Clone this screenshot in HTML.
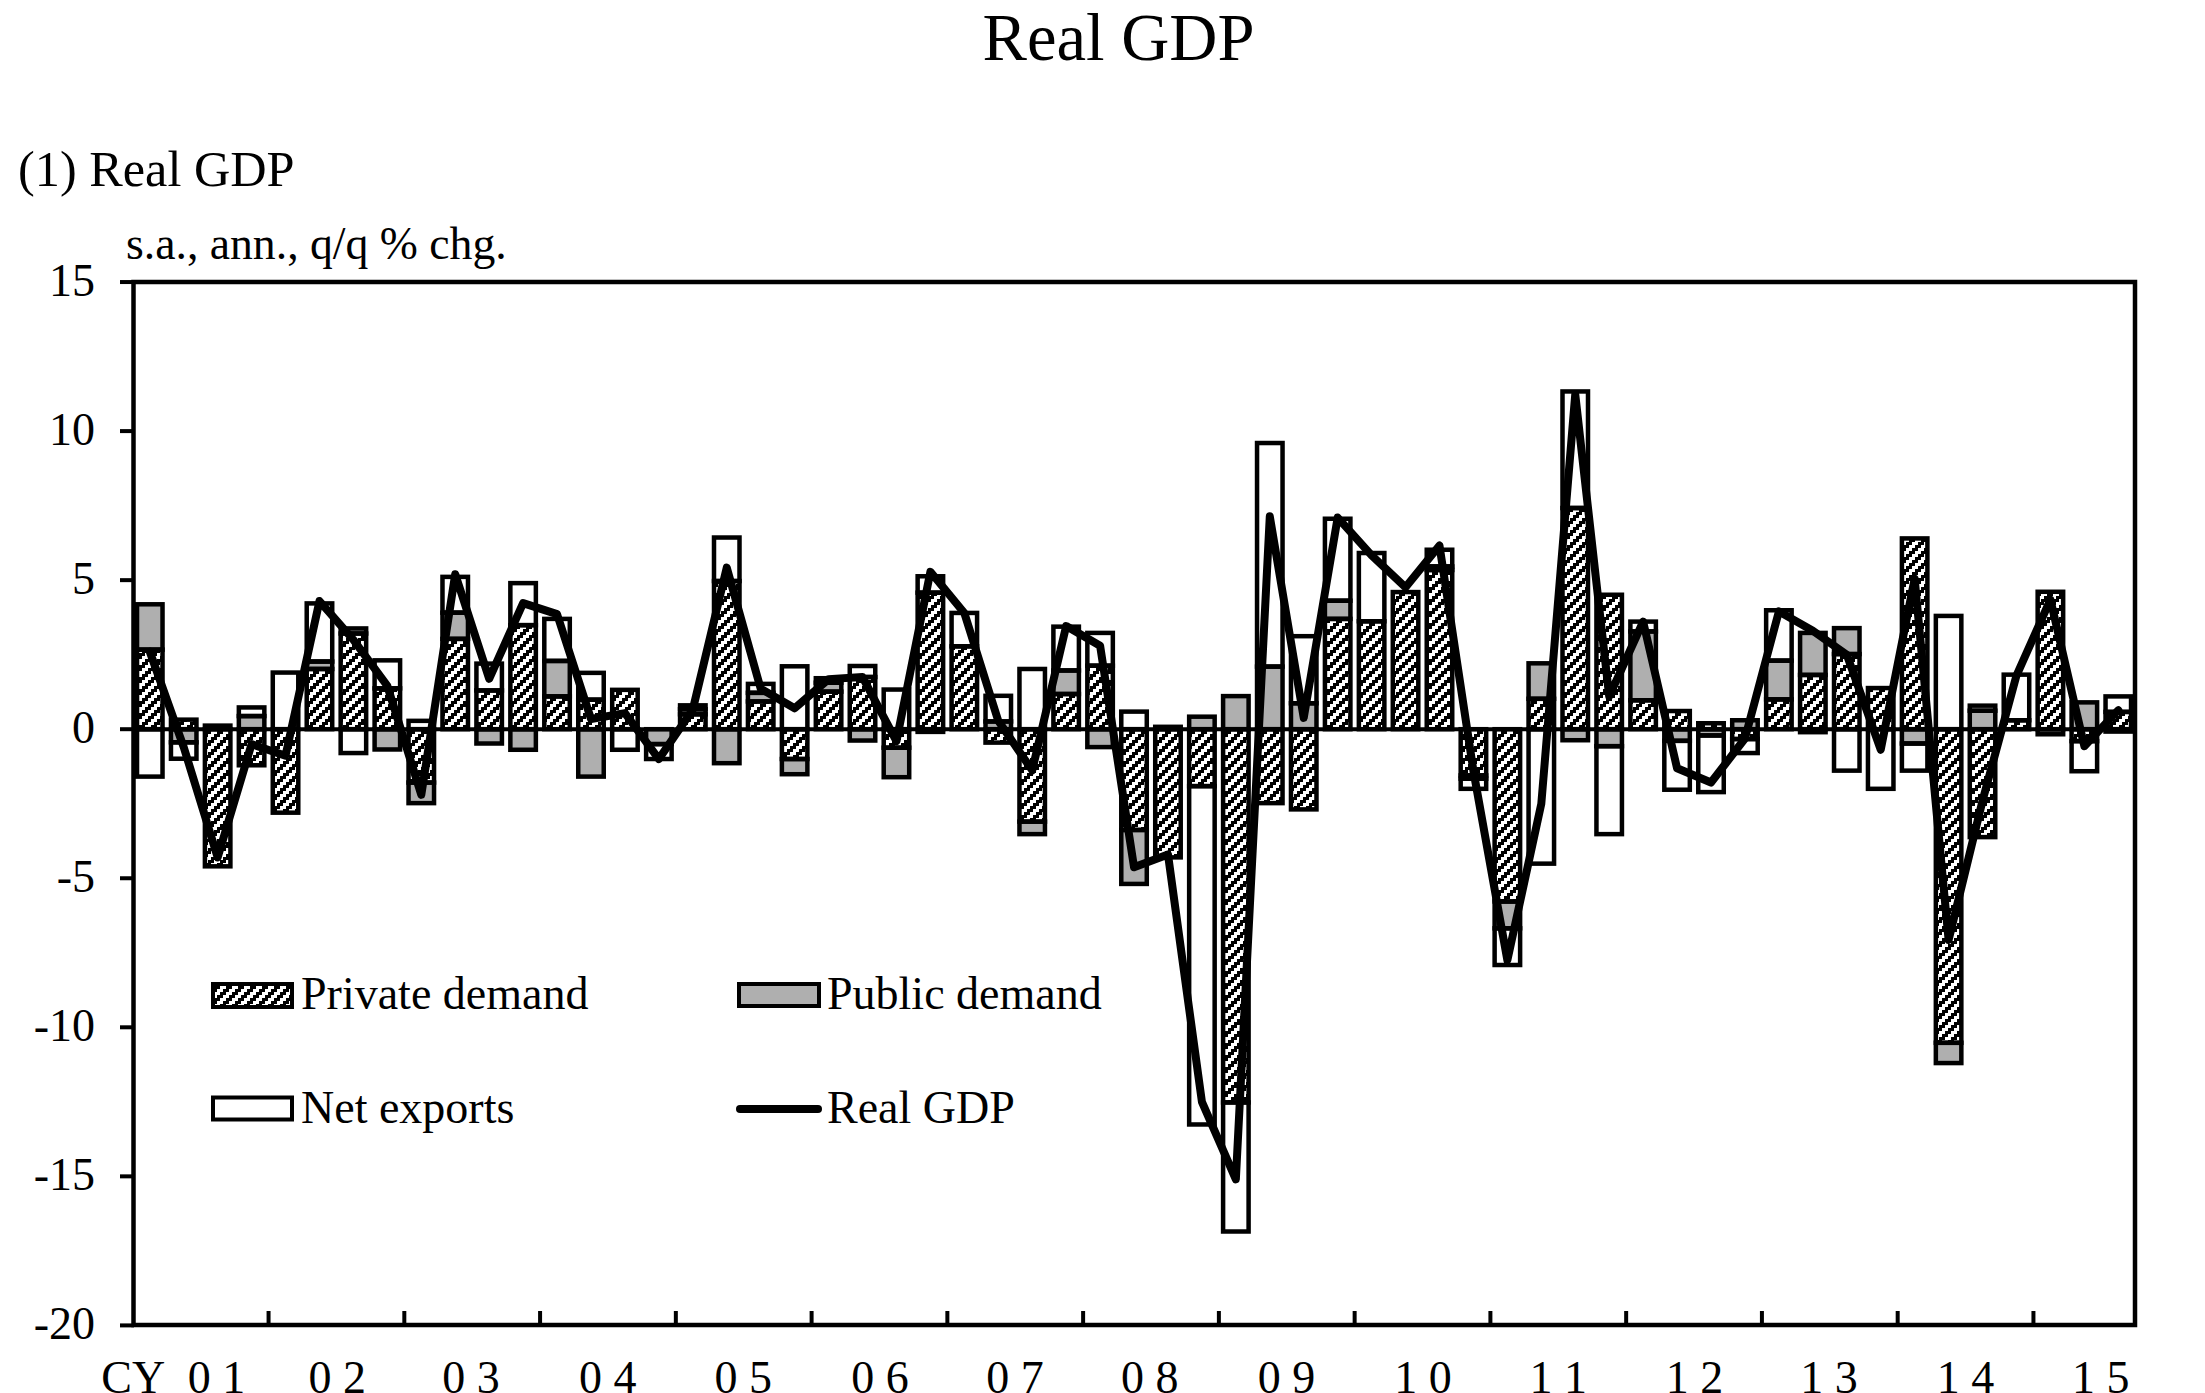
<!DOCTYPE html>
<html><head><meta charset="utf-8"><style>
html,body{margin:0;padding:0;background:#fff;}
body{width:2205px;height:1393px;overflow:hidden;position:relative;}
svg{position:absolute;left:0;top:0;}
text{font-family:"Liberation Serif",serif;fill:#000;}
</style></head><body>
<svg width="2205" height="1393" viewBox="0 0 2205 1393">
<defs>
<pattern id="hatch" patternUnits="userSpaceOnUse" x="7" y="11" width="12" height="12"><rect width="12" height="12" fill="#000"/><rect x="0" y="0" width="3" height="3" fill="#fff"/><rect x="3" y="0" width="3" height="3" fill="#fff"/><rect x="0" y="3" width="3" height="3" fill="#fff"/><rect x="9" y="3" width="3" height="3" fill="#fff"/><rect x="6" y="6" width="3" height="3" fill="#fff"/><rect x="9" y="6" width="3" height="3" fill="#fff"/><rect x="3" y="9" width="3" height="3" fill="#fff"/><rect x="6" y="9" width="3" height="3" fill="#fff"/></pattern>
</defs>
<rect width="2205" height="1393" fill="#fff"/>
<text x="1118.5" y="59.5" text-anchor="middle" font-size="66.6">Real GDP</text>
<text x="18" y="186" font-size="50.3">(1) Real GDP</text>
<text x="126" y="258.5" font-size="45.7">s.a., ann., q/q % chg.</text>
<g id="bars">
<rect x="137.02" y="649.61" width="25.50" height="79.59" fill="url(#hatch)"/>
<rect x="137.02" y="604.30" width="25.50" height="45.31" fill="#afafaf"/>
<rect x="137.02" y="729.20" width="25.50" height="47.40" fill="#ffffff"/>
<rect x="170.96" y="719.66" width="25.50" height="9.54" fill="url(#hatch)"/>
<rect x="170.96" y="729.20" width="25.50" height="13.12" fill="#afafaf"/>
<rect x="170.96" y="742.32" width="25.50" height="16.40" fill="#ffffff"/>
<rect x="204.90" y="729.20" width="25.50" height="137.13" fill="url(#hatch)"/>
<rect x="204.90" y="725.62" width="25.50" height="3.58" fill="#ffffff"/>
<rect x="238.84" y="729.20" width="25.50" height="36.07" fill="url(#hatch)"/>
<rect x="238.84" y="716.08" width="25.50" height="13.12" fill="#afafaf"/>
<rect x="238.84" y="707.44" width="25.50" height="8.64" fill="#ffffff"/>
<rect x="272.78" y="729.20" width="25.50" height="83.47" fill="url(#hatch)"/>
<rect x="272.78" y="672.56" width="25.50" height="56.64" fill="#ffffff"/>
<rect x="306.72" y="668.98" width="25.50" height="60.22" fill="url(#hatch)"/>
<rect x="306.72" y="661.53" width="25.50" height="7.45" fill="#afafaf"/>
<rect x="306.72" y="603.40" width="25.50" height="58.13" fill="#ffffff"/>
<rect x="340.66" y="633.51" width="25.50" height="95.69" fill="url(#hatch)"/>
<rect x="340.66" y="628.44" width="25.50" height="5.07" fill="#afafaf"/>
<rect x="340.66" y="729.20" width="25.50" height="23.85" fill="#ffffff"/>
<rect x="374.60" y="688.36" width="25.50" height="40.84" fill="url(#hatch)"/>
<rect x="374.60" y="729.20" width="25.50" height="20.27" fill="#afafaf"/>
<rect x="374.60" y="660.34" width="25.50" height="28.02" fill="#ffffff"/>
<rect x="408.54" y="729.20" width="25.50" height="53.36" fill="url(#hatch)"/>
<rect x="408.54" y="782.56" width="25.50" height="20.57" fill="#afafaf"/>
<rect x="408.54" y="720.85" width="25.50" height="8.35" fill="#ffffff"/>
<rect x="442.48" y="638.88" width="25.50" height="90.32" fill="url(#hatch)"/>
<rect x="442.48" y="612.64" width="25.50" height="26.23" fill="#afafaf"/>
<rect x="442.48" y="576.87" width="25.50" height="35.77" fill="#ffffff"/>
<rect x="476.42" y="690.45" width="25.50" height="38.75" fill="url(#hatch)"/>
<rect x="476.42" y="729.20" width="25.50" height="14.31" fill="#afafaf"/>
<rect x="476.42" y="663.62" width="25.50" height="26.83" fill="#ffffff"/>
<rect x="510.36" y="625.16" width="25.50" height="104.04" fill="url(#hatch)"/>
<rect x="510.36" y="729.20" width="25.50" height="20.57" fill="#afafaf"/>
<rect x="510.36" y="583.13" width="25.50" height="42.03" fill="#ffffff"/>
<rect x="544.30" y="696.41" width="25.50" height="32.79" fill="url(#hatch)"/>
<rect x="544.30" y="660.94" width="25.50" height="35.47" fill="#afafaf"/>
<rect x="544.30" y="618.90" width="25.50" height="42.03" fill="#ffffff"/>
<rect x="578.24" y="699.69" width="25.50" height="29.51" fill="url(#hatch)"/>
<rect x="578.24" y="729.20" width="25.50" height="47.40" fill="#afafaf"/>
<rect x="578.24" y="672.86" width="25.50" height="26.83" fill="#ffffff"/>
<rect x="612.18" y="689.85" width="25.50" height="39.35" fill="url(#hatch)"/>
<rect x="612.18" y="729.20" width="25.50" height="20.57" fill="#ffffff"/>
<rect x="646.12" y="729.20" width="25.50" height="14.90" fill="#afafaf"/>
<rect x="646.12" y="744.11" width="25.50" height="14.90" fill="#ffffff"/>
<rect x="680.06" y="714.30" width="25.50" height="14.90" fill="url(#hatch)"/>
<rect x="680.06" y="709.23" width="25.50" height="5.07" fill="#afafaf"/>
<rect x="680.06" y="705.35" width="25.50" height="3.88" fill="#ffffff"/>
<rect x="714.00" y="581.04" width="25.50" height="148.16" fill="url(#hatch)"/>
<rect x="714.00" y="729.20" width="25.50" height="33.98" fill="#afafaf"/>
<rect x="714.00" y="537.52" width="25.50" height="43.52" fill="#ffffff"/>
<rect x="747.94" y="701.48" width="25.50" height="27.72" fill="url(#hatch)"/>
<rect x="747.94" y="692.83" width="25.50" height="8.64" fill="#afafaf"/>
<rect x="747.94" y="683.89" width="25.50" height="8.94" fill="#ffffff"/>
<rect x="781.88" y="729.20" width="25.50" height="29.81" fill="url(#hatch)"/>
<rect x="781.88" y="759.01" width="25.50" height="15.20" fill="#afafaf"/>
<rect x="781.88" y="666.30" width="25.50" height="62.90" fill="#ffffff"/>
<rect x="815.82" y="691.64" width="25.50" height="37.56" fill="url(#hatch)"/>
<rect x="815.82" y="682.70" width="25.50" height="8.94" fill="#afafaf"/>
<rect x="815.82" y="678.22" width="25.50" height="4.47" fill="#ffffff"/>
<rect x="849.76" y="677.03" width="25.50" height="52.17" fill="url(#hatch)"/>
<rect x="849.76" y="729.20" width="25.50" height="11.33" fill="#afafaf"/>
<rect x="849.76" y="666.00" width="25.50" height="11.03" fill="#ffffff"/>
<rect x="883.70" y="729.20" width="25.50" height="18.48" fill="url(#hatch)"/>
<rect x="883.70" y="747.68" width="25.50" height="29.51" fill="#afafaf"/>
<rect x="883.70" y="689.55" width="25.50" height="39.65" fill="#ffffff"/>
<rect x="917.64" y="592.67" width="25.50" height="136.53" fill="url(#hatch)"/>
<rect x="917.64" y="729.20" width="25.50" height="2.68" fill="#afafaf"/>
<rect x="917.64" y="576.27" width="25.50" height="16.40" fill="#ffffff"/>
<rect x="951.58" y="646.33" width="25.50" height="82.87" fill="url(#hatch)"/>
<rect x="951.58" y="612.94" width="25.50" height="33.39" fill="#ffffff"/>
<rect x="985.52" y="729.20" width="25.50" height="13.41" fill="url(#hatch)"/>
<rect x="985.52" y="721.45" width="25.50" height="7.75" fill="#afafaf"/>
<rect x="985.52" y="695.81" width="25.50" height="25.64" fill="#ffffff"/>
<rect x="1019.46" y="729.20" width="25.50" height="92.41" fill="url(#hatch)"/>
<rect x="1019.46" y="821.61" width="25.50" height="12.52" fill="#afafaf"/>
<rect x="1019.46" y="668.98" width="25.50" height="60.22" fill="#ffffff"/>
<rect x="1053.40" y="694.02" width="25.50" height="35.18" fill="url(#hatch)"/>
<rect x="1053.40" y="670.47" width="25.50" height="23.55" fill="#afafaf"/>
<rect x="1053.40" y="626.65" width="25.50" height="43.82" fill="#ffffff"/>
<rect x="1087.34" y="665.70" width="25.50" height="63.50" fill="url(#hatch)"/>
<rect x="1087.34" y="729.20" width="25.50" height="17.89" fill="#afafaf"/>
<rect x="1087.34" y="632.91" width="25.50" height="32.79" fill="#ffffff"/>
<rect x="1121.28" y="729.20" width="25.50" height="100.76" fill="url(#hatch)"/>
<rect x="1121.28" y="829.96" width="25.50" height="53.96" fill="#afafaf"/>
<rect x="1121.28" y="711.61" width="25.50" height="17.59" fill="#ffffff"/>
<rect x="1155.22" y="729.20" width="25.50" height="128.18" fill="url(#hatch)"/>
<rect x="1155.22" y="726.82" width="25.50" height="2.38" fill="#afafaf"/>
<rect x="1189.16" y="729.20" width="25.50" height="56.94" fill="url(#hatch)"/>
<rect x="1189.16" y="716.68" width="25.50" height="12.52" fill="#afafaf"/>
<rect x="1189.16" y="786.14" width="25.50" height="338.34" fill="#ffffff"/>
<rect x="1223.10" y="729.20" width="25.50" height="373.22" fill="url(#hatch)"/>
<rect x="1223.10" y="696.11" width="25.50" height="33.09" fill="#afafaf"/>
<rect x="1223.10" y="1102.42" width="25.50" height="129.08" fill="#ffffff"/>
<rect x="1257.04" y="729.20" width="25.50" height="73.93" fill="url(#hatch)"/>
<rect x="1257.04" y="666.60" width="25.50" height="62.60" fill="#afafaf"/>
<rect x="1257.04" y="443.02" width="25.50" height="223.57" fill="#ffffff"/>
<rect x="1290.98" y="729.20" width="25.50" height="80.19" fill="url(#hatch)"/>
<rect x="1290.98" y="703.27" width="25.50" height="25.93" fill="#afafaf"/>
<rect x="1290.98" y="636.19" width="25.50" height="67.07" fill="#ffffff"/>
<rect x="1324.92" y="618.90" width="25.50" height="110.30" fill="url(#hatch)"/>
<rect x="1324.92" y="600.72" width="25.50" height="18.18" fill="#afafaf"/>
<rect x="1324.92" y="518.74" width="25.50" height="81.98" fill="#ffffff"/>
<rect x="1358.86" y="621.29" width="25.50" height="107.91" fill="url(#hatch)"/>
<rect x="1358.86" y="553.02" width="25.50" height="68.26" fill="#ffffff"/>
<rect x="1392.80" y="592.07" width="25.50" height="137.13" fill="url(#hatch)"/>
<rect x="1426.74" y="570.01" width="25.50" height="159.19" fill="url(#hatch)"/>
<rect x="1426.74" y="566.44" width="25.50" height="3.58" fill="#afafaf"/>
<rect x="1426.74" y="549.74" width="25.50" height="16.69" fill="#ffffff"/>
<rect x="1460.68" y="729.20" width="25.50" height="46.21" fill="url(#hatch)"/>
<rect x="1460.68" y="775.41" width="25.50" height="3.28" fill="#afafaf"/>
<rect x="1460.68" y="778.68" width="25.50" height="10.14" fill="#ffffff"/>
<rect x="1494.62" y="729.20" width="25.50" height="172.30" fill="url(#hatch)"/>
<rect x="1494.62" y="901.50" width="25.50" height="26.83" fill="#afafaf"/>
<rect x="1494.62" y="928.33" width="25.50" height="36.67" fill="#ffffff"/>
<rect x="1528.56" y="698.79" width="25.50" height="30.41" fill="url(#hatch)"/>
<rect x="1528.56" y="663.32" width="25.50" height="35.47" fill="#afafaf"/>
<rect x="1528.56" y="729.20" width="25.50" height="134.44" fill="#ffffff"/>
<rect x="1562.50" y="508.01" width="25.50" height="221.19" fill="url(#hatch)"/>
<rect x="1562.50" y="729.20" width="25.50" height="11.03" fill="#afafaf"/>
<rect x="1562.50" y="391.45" width="25.50" height="116.56" fill="#ffffff"/>
<rect x="1596.44" y="594.76" width="25.50" height="134.44" fill="url(#hatch)"/>
<rect x="1596.44" y="729.20" width="25.50" height="16.99" fill="#afafaf"/>
<rect x="1596.44" y="746.19" width="25.50" height="87.94" fill="#ffffff"/>
<rect x="1630.38" y="700.28" width="25.50" height="28.92" fill="url(#hatch)"/>
<rect x="1630.38" y="631.42" width="25.50" height="68.86" fill="#afafaf"/>
<rect x="1630.38" y="621.59" width="25.50" height="9.84" fill="#ffffff"/>
<rect x="1664.32" y="711.02" width="25.50" height="18.18" fill="url(#hatch)"/>
<rect x="1664.32" y="729.20" width="25.50" height="11.63" fill="#afafaf"/>
<rect x="1664.32" y="740.83" width="25.50" height="48.89" fill="#ffffff"/>
<rect x="1698.26" y="723.24" width="25.50" height="5.96" fill="url(#hatch)"/>
<rect x="1698.26" y="729.20" width="25.50" height="6.26" fill="#afafaf"/>
<rect x="1698.26" y="735.46" width="25.50" height="56.64" fill="#ffffff"/>
<rect x="1732.20" y="729.20" width="25.50" height="9.84" fill="url(#hatch)"/>
<rect x="1732.20" y="720.26" width="25.50" height="8.94" fill="#afafaf"/>
<rect x="1732.20" y="739.04" width="25.50" height="14.01" fill="#ffffff"/>
<rect x="1766.14" y="699.39" width="25.50" height="29.81" fill="url(#hatch)"/>
<rect x="1766.14" y="660.64" width="25.50" height="38.75" fill="#afafaf"/>
<rect x="1766.14" y="610.26" width="25.50" height="50.38" fill="#ffffff"/>
<rect x="1800.08" y="674.95" width="25.50" height="54.25" fill="url(#hatch)"/>
<rect x="1800.08" y="632.91" width="25.50" height="42.03" fill="#afafaf"/>
<rect x="1800.08" y="729.20" width="25.50" height="2.98" fill="#ffffff"/>
<rect x="1834.02" y="654.08" width="25.50" height="75.12" fill="url(#hatch)"/>
<rect x="1834.02" y="628.14" width="25.50" height="25.93" fill="#afafaf"/>
<rect x="1834.02" y="729.20" width="25.50" height="41.44" fill="#ffffff"/>
<rect x="1867.96" y="688.06" width="25.50" height="41.14" fill="url(#hatch)"/>
<rect x="1867.96" y="729.20" width="25.50" height="59.62" fill="#ffffff"/>
<rect x="1901.90" y="538.42" width="25.50" height="190.78" fill="url(#hatch)"/>
<rect x="1901.90" y="729.20" width="25.50" height="14.31" fill="#afafaf"/>
<rect x="1901.90" y="743.51" width="25.50" height="27.13" fill="#ffffff"/>
<rect x="1935.84" y="729.20" width="25.50" height="313.60" fill="url(#hatch)"/>
<rect x="1935.84" y="1042.80" width="25.50" height="20.27" fill="#afafaf"/>
<rect x="1935.84" y="615.92" width="25.50" height="113.28" fill="#ffffff"/>
<rect x="1969.78" y="729.20" width="25.50" height="107.91" fill="url(#hatch)"/>
<rect x="1969.78" y="710.72" width="25.50" height="18.48" fill="#afafaf"/>
<rect x="1969.78" y="705.65" width="25.50" height="5.07" fill="#ffffff"/>
<rect x="2003.72" y="720.26" width="25.50" height="8.94" fill="url(#hatch)"/>
<rect x="2003.72" y="674.65" width="25.50" height="45.61" fill="#ffffff"/>
<rect x="2037.66" y="591.78" width="25.50" height="137.42" fill="url(#hatch)"/>
<rect x="2037.66" y="729.20" width="25.50" height="5.07" fill="#afafaf"/>
<rect x="2071.60" y="729.20" width="25.50" height="11.92" fill="url(#hatch)"/>
<rect x="2071.60" y="702.37" width="25.50" height="26.83" fill="#afafaf"/>
<rect x="2071.60" y="741.12" width="25.50" height="30.11" fill="#ffffff"/>
<rect x="2105.54" y="711.91" width="25.50" height="17.29" fill="url(#hatch)"/>
<rect x="2105.54" y="729.20" width="25.50" height="2.38" fill="#afafaf"/>
<rect x="2105.54" y="696.41" width="25.50" height="15.50" fill="#ffffff"/>
</g>
<g fill="none" stroke="#000" stroke-width="4.5" stroke-linejoin="miter">
<rect x="137.02" y="649.61" width="25.50" height="79.59"/>
<rect x="137.02" y="604.30" width="25.50" height="45.31"/>
<rect x="137.02" y="729.20" width="25.50" height="47.40"/>
<rect x="170.96" y="719.66" width="25.50" height="9.54"/>
<rect x="170.96" y="729.20" width="25.50" height="13.12"/>
<rect x="170.96" y="742.32" width="25.50" height="16.40"/>
<rect x="204.90" y="729.20" width="25.50" height="137.13"/>
<rect x="204.90" y="725.62" width="25.50" height="3.58"/>
<rect x="238.84" y="729.20" width="25.50" height="36.07"/>
<rect x="238.84" y="716.08" width="25.50" height="13.12"/>
<rect x="238.84" y="707.44" width="25.50" height="8.64"/>
<rect x="272.78" y="729.20" width="25.50" height="83.47"/>
<rect x="272.78" y="672.56" width="25.50" height="56.64"/>
<rect x="306.72" y="668.98" width="25.50" height="60.22"/>
<rect x="306.72" y="661.53" width="25.50" height="7.45"/>
<rect x="306.72" y="603.40" width="25.50" height="58.13"/>
<rect x="340.66" y="633.51" width="25.50" height="95.69"/>
<rect x="340.66" y="628.44" width="25.50" height="5.07"/>
<rect x="340.66" y="729.20" width="25.50" height="23.85"/>
<rect x="374.60" y="688.36" width="25.50" height="40.84"/>
<rect x="374.60" y="729.20" width="25.50" height="20.27"/>
<rect x="374.60" y="660.34" width="25.50" height="28.02"/>
<rect x="408.54" y="729.20" width="25.50" height="53.36"/>
<rect x="408.54" y="782.56" width="25.50" height="20.57"/>
<rect x="408.54" y="720.85" width="25.50" height="8.35"/>
<rect x="442.48" y="638.88" width="25.50" height="90.32"/>
<rect x="442.48" y="612.64" width="25.50" height="26.23"/>
<rect x="442.48" y="576.87" width="25.50" height="35.77"/>
<rect x="476.42" y="690.45" width="25.50" height="38.75"/>
<rect x="476.42" y="729.20" width="25.50" height="14.31"/>
<rect x="476.42" y="663.62" width="25.50" height="26.83"/>
<rect x="510.36" y="625.16" width="25.50" height="104.04"/>
<rect x="510.36" y="729.20" width="25.50" height="20.57"/>
<rect x="510.36" y="583.13" width="25.50" height="42.03"/>
<rect x="544.30" y="696.41" width="25.50" height="32.79"/>
<rect x="544.30" y="660.94" width="25.50" height="35.47"/>
<rect x="544.30" y="618.90" width="25.50" height="42.03"/>
<rect x="578.24" y="699.69" width="25.50" height="29.51"/>
<rect x="578.24" y="729.20" width="25.50" height="47.40"/>
<rect x="578.24" y="672.86" width="25.50" height="26.83"/>
<rect x="612.18" y="689.85" width="25.50" height="39.35"/>
<rect x="612.18" y="729.20" width="25.50" height="20.57"/>
<rect x="646.12" y="729.20" width="25.50" height="14.90"/>
<rect x="646.12" y="744.11" width="25.50" height="14.90"/>
<rect x="680.06" y="714.30" width="25.50" height="14.90"/>
<rect x="680.06" y="709.23" width="25.50" height="5.07"/>
<rect x="680.06" y="705.35" width="25.50" height="3.88"/>
<rect x="714.00" y="581.04" width="25.50" height="148.16"/>
<rect x="714.00" y="729.20" width="25.50" height="33.98"/>
<rect x="714.00" y="537.52" width="25.50" height="43.52"/>
<rect x="747.94" y="701.48" width="25.50" height="27.72"/>
<rect x="747.94" y="692.83" width="25.50" height="8.64"/>
<rect x="747.94" y="683.89" width="25.50" height="8.94"/>
<rect x="781.88" y="729.20" width="25.50" height="29.81"/>
<rect x="781.88" y="759.01" width="25.50" height="15.20"/>
<rect x="781.88" y="666.30" width="25.50" height="62.90"/>
<rect x="815.82" y="691.64" width="25.50" height="37.56"/>
<rect x="815.82" y="682.70" width="25.50" height="8.94"/>
<rect x="815.82" y="678.22" width="25.50" height="4.47"/>
<rect x="849.76" y="677.03" width="25.50" height="52.17"/>
<rect x="849.76" y="729.20" width="25.50" height="11.33"/>
<rect x="849.76" y="666.00" width="25.50" height="11.03"/>
<rect x="883.70" y="729.20" width="25.50" height="18.48"/>
<rect x="883.70" y="747.68" width="25.50" height="29.51"/>
<rect x="883.70" y="689.55" width="25.50" height="39.65"/>
<rect x="917.64" y="592.67" width="25.50" height="136.53"/>
<rect x="917.64" y="729.20" width="25.50" height="2.68"/>
<rect x="917.64" y="576.27" width="25.50" height="16.40"/>
<rect x="951.58" y="646.33" width="25.50" height="82.87"/>
<rect x="951.58" y="612.94" width="25.50" height="33.39"/>
<rect x="985.52" y="729.20" width="25.50" height="13.41"/>
<rect x="985.52" y="721.45" width="25.50" height="7.75"/>
<rect x="985.52" y="695.81" width="25.50" height="25.64"/>
<rect x="1019.46" y="729.20" width="25.50" height="92.41"/>
<rect x="1019.46" y="821.61" width="25.50" height="12.52"/>
<rect x="1019.46" y="668.98" width="25.50" height="60.22"/>
<rect x="1053.40" y="694.02" width="25.50" height="35.18"/>
<rect x="1053.40" y="670.47" width="25.50" height="23.55"/>
<rect x="1053.40" y="626.65" width="25.50" height="43.82"/>
<rect x="1087.34" y="665.70" width="25.50" height="63.50"/>
<rect x="1087.34" y="729.20" width="25.50" height="17.89"/>
<rect x="1087.34" y="632.91" width="25.50" height="32.79"/>
<rect x="1121.28" y="729.20" width="25.50" height="100.76"/>
<rect x="1121.28" y="829.96" width="25.50" height="53.96"/>
<rect x="1121.28" y="711.61" width="25.50" height="17.59"/>
<rect x="1155.22" y="729.20" width="25.50" height="128.18"/>
<rect x="1155.22" y="726.82" width="25.50" height="2.38"/>
<rect x="1189.16" y="729.20" width="25.50" height="56.94"/>
<rect x="1189.16" y="716.68" width="25.50" height="12.52"/>
<rect x="1189.16" y="786.14" width="25.50" height="338.34"/>
<rect x="1223.10" y="729.20" width="25.50" height="373.22"/>
<rect x="1223.10" y="696.11" width="25.50" height="33.09"/>
<rect x="1223.10" y="1102.42" width="25.50" height="129.08"/>
<rect x="1257.04" y="729.20" width="25.50" height="73.93"/>
<rect x="1257.04" y="666.60" width="25.50" height="62.60"/>
<rect x="1257.04" y="443.02" width="25.50" height="223.57"/>
<rect x="1290.98" y="729.20" width="25.50" height="80.19"/>
<rect x="1290.98" y="703.27" width="25.50" height="25.93"/>
<rect x="1290.98" y="636.19" width="25.50" height="67.07"/>
<rect x="1324.92" y="618.90" width="25.50" height="110.30"/>
<rect x="1324.92" y="600.72" width="25.50" height="18.18"/>
<rect x="1324.92" y="518.74" width="25.50" height="81.98"/>
<rect x="1358.86" y="621.29" width="25.50" height="107.91"/>
<rect x="1358.86" y="553.02" width="25.50" height="68.26"/>
<rect x="1392.80" y="592.07" width="25.50" height="137.13"/>
<rect x="1426.74" y="570.01" width="25.50" height="159.19"/>
<rect x="1426.74" y="566.44" width="25.50" height="3.58"/>
<rect x="1426.74" y="549.74" width="25.50" height="16.69"/>
<rect x="1460.68" y="729.20" width="25.50" height="46.21"/>
<rect x="1460.68" y="775.41" width="25.50" height="3.28"/>
<rect x="1460.68" y="778.68" width="25.50" height="10.14"/>
<rect x="1494.62" y="729.20" width="25.50" height="172.30"/>
<rect x="1494.62" y="901.50" width="25.50" height="26.83"/>
<rect x="1494.62" y="928.33" width="25.50" height="36.67"/>
<rect x="1528.56" y="698.79" width="25.50" height="30.41"/>
<rect x="1528.56" y="663.32" width="25.50" height="35.47"/>
<rect x="1528.56" y="729.20" width="25.50" height="134.44"/>
<rect x="1562.50" y="508.01" width="25.50" height="221.19"/>
<rect x="1562.50" y="729.20" width="25.50" height="11.03"/>
<rect x="1562.50" y="391.45" width="25.50" height="116.56"/>
<rect x="1596.44" y="594.76" width="25.50" height="134.44"/>
<rect x="1596.44" y="729.20" width="25.50" height="16.99"/>
<rect x="1596.44" y="746.19" width="25.50" height="87.94"/>
<rect x="1630.38" y="700.28" width="25.50" height="28.92"/>
<rect x="1630.38" y="631.42" width="25.50" height="68.86"/>
<rect x="1630.38" y="621.59" width="25.50" height="9.84"/>
<rect x="1664.32" y="711.02" width="25.50" height="18.18"/>
<rect x="1664.32" y="729.20" width="25.50" height="11.63"/>
<rect x="1664.32" y="740.83" width="25.50" height="48.89"/>
<rect x="1698.26" y="723.24" width="25.50" height="5.96"/>
<rect x="1698.26" y="729.20" width="25.50" height="6.26"/>
<rect x="1698.26" y="735.46" width="25.50" height="56.64"/>
<rect x="1732.20" y="729.20" width="25.50" height="9.84"/>
<rect x="1732.20" y="720.26" width="25.50" height="8.94"/>
<rect x="1732.20" y="739.04" width="25.50" height="14.01"/>
<rect x="1766.14" y="699.39" width="25.50" height="29.81"/>
<rect x="1766.14" y="660.64" width="25.50" height="38.75"/>
<rect x="1766.14" y="610.26" width="25.50" height="50.38"/>
<rect x="1800.08" y="674.95" width="25.50" height="54.25"/>
<rect x="1800.08" y="632.91" width="25.50" height="42.03"/>
<rect x="1800.08" y="729.20" width="25.50" height="2.98"/>
<rect x="1834.02" y="654.08" width="25.50" height="75.12"/>
<rect x="1834.02" y="628.14" width="25.50" height="25.93"/>
<rect x="1834.02" y="729.20" width="25.50" height="41.44"/>
<rect x="1867.96" y="688.06" width="25.50" height="41.14"/>
<rect x="1867.96" y="729.20" width="25.50" height="59.62"/>
<rect x="1901.90" y="538.42" width="25.50" height="190.78"/>
<rect x="1901.90" y="729.20" width="25.50" height="14.31"/>
<rect x="1901.90" y="743.51" width="25.50" height="27.13"/>
<rect x="1935.84" y="729.20" width="25.50" height="313.60"/>
<rect x="1935.84" y="1042.80" width="25.50" height="20.27"/>
<rect x="1935.84" y="615.92" width="25.50" height="113.28"/>
<rect x="1969.78" y="729.20" width="25.50" height="107.91"/>
<rect x="1969.78" y="710.72" width="25.50" height="18.48"/>
<rect x="1969.78" y="705.65" width="25.50" height="5.07"/>
<rect x="2003.72" y="720.26" width="25.50" height="8.94"/>
<rect x="2003.72" y="674.65" width="25.50" height="45.61"/>
<rect x="2037.66" y="591.78" width="25.50" height="137.42"/>
<rect x="2037.66" y="729.20" width="25.50" height="5.07"/>
<rect x="2071.60" y="729.20" width="25.50" height="11.92"/>
<rect x="2071.60" y="702.37" width="25.50" height="26.83"/>
<rect x="2071.60" y="741.12" width="25.50" height="30.11"/>
<rect x="2105.54" y="711.91" width="25.50" height="17.29"/>
<rect x="2105.54" y="729.20" width="25.50" height="2.38"/>
<rect x="2105.54" y="696.41" width="25.50" height="15.50"/>
</g>
<g stroke="#000" stroke-width="4" fill="none">
<line x1="133.5" y1="729.2" x2="2135" y2="729.2"/>
</g>
<polyline points="149.77,651.69 183.71,747.09 217.65,857.38 251.59,744.11 285.53,755.73 319.47,601.02 353.41,639.77 387.35,685.98 421.29,794.78 455.23,574.19 489.17,678.82 523.11,603.10 557.05,614.13 590.99,719.06 624.93,713.10 658.87,759.01 692.81,709.53 726.75,567.63 760.69,688.66 794.63,708.33 828.57,679.12 862.51,677.03 896.45,741.12 930.39,571.80 964.33,612.94 998.27,720.85 1032.21,770.34 1066.15,626.06 1100.09,645.73 1134.03,867.22 1167.97,854.40 1201.91,1101.83 1235.85,1179.33 1269.79,516.36 1303.73,717.87 1337.67,517.55 1371.61,555.41 1405.55,587.30 1439.49,545.57 1473.43,770.93 1507.37,960.23 1541.31,803.73 1575.25,394.43 1609.19,696.41 1643.13,621.59 1677.07,768.25 1711.01,782.56 1744.95,738.44 1778.89,611.45 1812.83,630.83 1846.77,654.68 1880.71,749.77 1914.65,578.66 1948.59,939.96 1982.53,800.74 2016.47,675.54 2050.41,599.53 2084.35,746.19 2118.29,710.12" fill="none" stroke="#000" stroke-width="8" stroke-linejoin="round" stroke-linecap="round"/>
<g stroke="#000" fill="none">
<rect x="133.5" y="282" width="2001.5" height="1043" stroke-width="4.5"/>
</g>
<g stroke="#000" stroke-width="4">
<line x1="120" y1="282.05" x2="134" y2="282.05"/>
<line x1="120" y1="431.10" x2="134" y2="431.10"/>
<line x1="120" y1="580.15" x2="134" y2="580.15"/>
<line x1="120" y1="729.20" x2="134" y2="729.20"/>
<line x1="120" y1="878.25" x2="134" y2="878.25"/>
<line x1="120" y1="1027.30" x2="134" y2="1027.30"/>
<line x1="120" y1="1176.35" x2="134" y2="1176.35"/>
<line x1="120" y1="1325.40" x2="134" y2="1325.40"/>
<line x1="268.56" y1="1311" x2="268.56" y2="1325"/>
<line x1="404.32" y1="1311" x2="404.32" y2="1325"/>
<line x1="540.08" y1="1311" x2="540.08" y2="1325"/>
<line x1="675.84" y1="1311" x2="675.84" y2="1325"/>
<line x1="811.60" y1="1311" x2="811.60" y2="1325"/>
<line x1="947.36" y1="1311" x2="947.36" y2="1325"/>
<line x1="1083.12" y1="1311" x2="1083.12" y2="1325"/>
<line x1="1218.88" y1="1311" x2="1218.88" y2="1325"/>
<line x1="1354.64" y1="1311" x2="1354.64" y2="1325"/>
<line x1="1490.40" y1="1311" x2="1490.40" y2="1325"/>
<line x1="1626.16" y1="1311" x2="1626.16" y2="1325"/>
<line x1="1761.92" y1="1311" x2="1761.92" y2="1325"/>
<line x1="1897.68" y1="1311" x2="1897.68" y2="1325"/>
<line x1="2033.44" y1="1311" x2="2033.44" y2="1325"/>
</g>
<g font-size="46">
<text x="95" y="296.05" text-anchor="end">15</text>
<text x="95" y="445.10" text-anchor="end">10</text>
<text x="95" y="594.15" text-anchor="end">5</text>
<text x="95" y="743.20" text-anchor="end">0</text>
<text x="95" y="892.25" text-anchor="end">-5</text>
<text x="95" y="1041.30" text-anchor="end">-10</text>
<text x="95" y="1190.35" text-anchor="end">-15</text>
<text x="95" y="1339.40" text-anchor="end">-20</text>
<text x="133.2" y="1393" text-anchor="middle">CY</text>
<text x="216.4" y="1393" text-anchor="middle">0 1</text>
<text x="337.2" y="1393" text-anchor="middle">0 2</text>
<text x="471.0" y="1393" text-anchor="middle">0 3</text>
<text x="607.7" y="1393" text-anchor="middle">0 4</text>
<text x="743.2" y="1393" text-anchor="middle">0 5</text>
<text x="880.0" y="1393" text-anchor="middle">0 6</text>
<text x="1015.1" y="1393" text-anchor="middle">0 7</text>
<text x="1149.7" y="1393" text-anchor="middle">0 8</text>
<text x="1286.6" y="1393" text-anchor="middle">0 9</text>
<text x="1422.9" y="1393" text-anchor="middle">1 0</text>
<text x="1558.3" y="1393" text-anchor="middle">1 1</text>
<text x="1694.5" y="1393" text-anchor="middle">1 2</text>
<text x="1828.9" y="1393" text-anchor="middle">1 3</text>
<text x="1965.5" y="1393" text-anchor="middle">1 4</text>
<text x="2100.8" y="1393" text-anchor="middle">1 5</text>
</g>
<g>
<rect x="213" y="984" width="79" height="23" fill="url(#hatch)" stroke="#000" stroke-width="4"/>
<text x="301" y="1009" font-size="46">Private demand</text>
<rect x="739" y="984" width="80" height="22" fill="#afafaf" stroke="#000" stroke-width="4"/>
<text x="827" y="1009" font-size="46">Public demand</text>
<rect x="213" y="1097.5" width="79" height="22" fill="#fff" stroke="#000" stroke-width="4"/>
<text x="301" y="1123" font-size="46">Net exports</text>
<line x1="740" y1="1109" x2="818" y2="1109" stroke="#000" stroke-width="8" stroke-linecap="round"/>
<text x="827" y="1122.5" font-size="46">Real GDP</text>
</g>
</svg>
</body></html>
